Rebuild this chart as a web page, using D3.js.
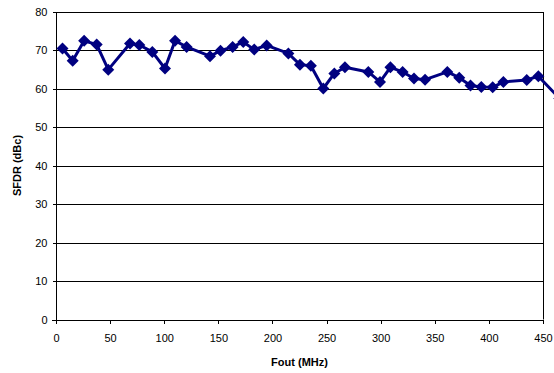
<!DOCTYPE html>
<html>
<head>
<meta charset="utf-8">
<script src="https://d3js.org/d3.v7.min.js"></script>
<style>
  body { margin: 0; background: #fff; }
  .axis text { font-family: "Liberation Sans", Arial, sans-serif; font-size: 11px; fill: #000; }
  .axis path, .axis line { stroke: #000; shape-rendering: crispEdges; }
</style>
</head>
<body>
<script>
// data
var fout = [6, 15.4, 26, 37.6, 48.3, 68.4, 77, 89, 100.7, 110, 120.7, 142.3, 152, 163.2, 173,
            183.2, 194.7, 214.7, 225.4, 235.5, 247, 257.2, 267, 288.6, 299.4, 309, 320.3, 330.8,
            341, 361.6, 372.6, 383, 393, 403.5, 413.4, 435, 445.7, 465];
var sfdr = [70.4, 67.2, 72.4, 71.4, 64.9, 71.7, 71.3, 69.5, 65.2, 72.4, 70.8, 68.4, 69.8, 70.8, 72.1,
            70.1, 71.2, 69.1, 66.2, 65.9, 60.0, 63.9, 65.5, 64.3, 61.7, 65.5, 64.3, 62.6,
            62.3, 64.3, 62.8, 60.8, 60.4, 60.3, 61.7, 62.2, 63.2, 57.5];
var xTicks = [0, 50, 100, 150, 200, 250, 300, 350, 400, 450];
var yTicks = [0, 10, 20, 30, 40, 50, 60, 70, 80];

var w = 554, h = 373;
var padL = 56, padR = 543, padT = 11.5, padB = 319.5;

var svg = d3.select("body").append("svg")
  .attr("width", w)
  .attr("height", h);

var x = d3.scaleLinear().domain([0, 450]).range([padL, padR]);
var y = d3.scaleLinear().domain([0, 80]).range([padB, padT]);

// gridlines
svg.append("g")
  .selectAll("line")
  .data(yTicks.slice(1))
  .enter().append("line")
  .attr("x1", padL).attr("x2", padR)
  .attr("y1", function(d) { return Math.round(y(d)) + 0.5; })
  .attr("y2", function(d) { return Math.round(y(d)) + 0.5; })
  .attr("stroke", "#000");

// right border
svg.append("line")
  .attr("x1", padR + 0.5).attr("x2", padR + 0.5)
  .attr("y1", Math.round(padT)).attr("y2", padB)
  .attr("stroke", "#000");

var xAxis = d3.axisBottom(x).tickValues(xTicks).tickSize(4).tickPadding(11);
var yAxis = d3.axisLeft(y).tickValues(yTicks).tickSize(4).tickPadding(5);

svg.append("g")
  .attr("class", "axis")
  .attr("transform", "translate(0," + padB + ")")
  .call(xAxis)
  .call(function(g) { g.select(".domain").attr("d", "M" + (padL - 4) + ",0.5H" + padR); });

svg.append("g")
  .attr("class", "axis")
  .attr("transform", "translate(" + (padL + 0.5) + ",0)")
  .call(yAxis)
  .call(function(g) { g.select(".domain").attr("d", "M0," + padT + "V" + padB); });

// axis titles
svg.append("text")
  .attr("x", (padL + padR) / 2)
  .attr("y", 366)
  .attr("text-anchor", "middle")
  .attr("font-family", "Liberation Sans, Arial, sans-serif")
  .attr("font-size", "11px")
  .attr("font-weight", "bold")
  .text("Fout (MHz)");

svg.append("text")
  .attr("transform", "translate(21," + ((padT + padB) / 2) + ") rotate(-90)")
  .attr("text-anchor", "middle")
  .attr("font-family", "Liberation Sans, Arial, sans-serif")
  .attr("font-size", "11px")
  .attr("font-weight", "bold")
  .text("SFDR (dBc)");

var pts = fout.map(function(d, i) { return [d, sfdr[i]]; });

var line = d3.line()
  .x(function(d) { return x(d[0]); })
  .y(function(d) { return y(d[1]); });

svg.append("path")
  .datum(pts)
  .attr("d", line)
  .attr("fill", "none")
  .attr("stroke", "#000080")
  .attr("stroke-width", 3)
  .attr("stroke-linejoin", "round");

svg.selectAll(".marker")
  .data(pts)
  .enter().append("path")
  .attr("class", "marker")
  .attr("d", "M0,-6L6,0L0,6L-6,0Z")
  .attr("transform", function(d) { return "translate(" + x(d[0]) + "," + y(d[1]) + ")"; })
  .attr("fill", "#000080");
</script>
</body>
</html>
